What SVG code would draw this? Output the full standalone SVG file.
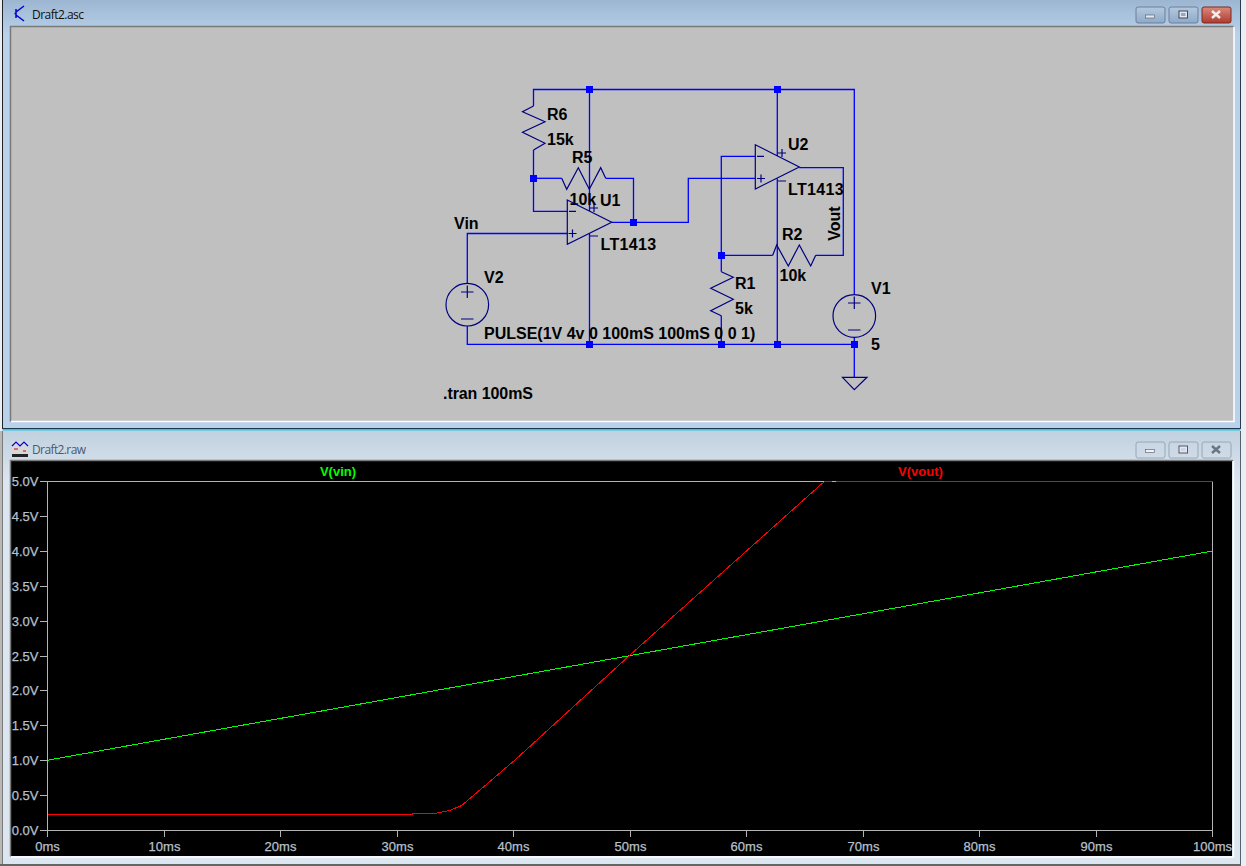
<svg xmlns="http://www.w3.org/2000/svg" width="1246" height="866" viewBox="0 0 1246 866">
<style>
.w{fill:none;stroke:#0000ff;stroke-width:1.3}
.s{fill:none;stroke:#000080;stroke-width:1.2}
.d{fill:#0000ff}
.t{font:bold 16px "Liberation Sans",Arial,sans-serif;fill:#000}
.lt{letter-spacing:.35px}
.ax{font:13px "Liberation Sans",Arial,sans-serif;fill:#b8c0cc;stroke:#b8c0cc;stroke-width:.25}
.tk{fill:none;stroke:#b4b4b4;stroke-width:1;shape-rendering:crispEdges}
.title{font:12px "Open Sans","Liberation Sans",sans-serif}
.leg{font:bold 13px "Liberation Sans",Arial,sans-serif}
.tr{fill:none;stroke-width:1;shape-rendering:crispEdges}
</style>
<defs>
<linearGradient id="g1" x1="0" y1="0" x2="0" y2="1"><stop offset="0" stop-color="#9cb6d2"/><stop offset="0.08" stop-color="#b9d1ea"/><stop offset="1" stop-color="#b9d1ea"/></linearGradient>
<linearGradient id="g2" x1="0" y1="0" x2="0" y2="1"><stop offset="0" stop-color="#c2d1df"/><stop offset="0.12" stop-color="#dbe6f1"/><stop offset="1" stop-color="#dbe6f1"/></linearGradient>
<linearGradient id="bb" x1="0" y1="0" x2="0" y2="1"><stop offset="0" stop-color="#b4c9df"/><stop offset="1" stop-color="#8ea9c8"/></linearGradient>
<linearGradient id="br" x1="0" y1="0" x2="0" y2="1"><stop offset="0" stop-color="#d98a7c"/><stop offset="1" stop-color="#b03a2e"/></linearGradient>
<linearGradient id="bg" x1="0" y1="0" x2="0" y2="1"><stop offset="0" stop-color="#c8d6e3"/><stop offset="1" stop-color="#cfdbe7"/></linearGradient>
</defs>
<rect width="1246" height="866" fill="#e8eef4"/>
<g id="window-schematic">
<rect x="2" y="0" width="1239" height="431" fill="url(#g1)"/>
<rect x="2" y="0" width="1" height="429" fill="#222"/>
<rect x="1240" y="0" width="1" height="429" fill="#2a3a4a"/>
<rect x="3" y="428" width="1237" height="1" fill="#1a3a4a"/>
<rect x="3" y="429" width="1237" height="1.500" fill="#30c8e0"/>
<rect x="10.500" y="26.500" width="1223" height="395" fill="#c0c0c0"/>
<path d="M10.500 421.500V26.500H1233.500" fill="none" stroke="#7a7a7a" stroke-width="1.500"/>
<path d="M11 421.500H1234V27" fill="none" stroke="#ffffff" stroke-width="1.500"/>
<path d="M14.500 13.500H16M16 9V18M16 12L24 6M16 15L24 21" fill="none" stroke="#0000d0" stroke-width="1.500"/>
<text class="title" x="32" y="18.500" fill="#101010" textLength="52">Draft2.asc</text>
<rect x="1136" y="7" width="29" height="16" rx="2" fill="url(#bb)" stroke="#6f7f99"/>
<rect x="1145.500" y="15" width="9" height="3" fill="#e4e8ee" stroke="#556" stroke-width=".6"/>
<rect x="1169" y="7" width="29" height="16" rx="2" fill="url(#bb)" stroke="#6f7f99"/>
<rect x="1179" y="11" width="8.500" height="7" fill="#e4e8ee" stroke="#445" stroke-width="1"/><rect x="1181" y="13" width="4.500" height="3" fill="#8ea9c8"/>
<rect x="1202" y="7" width="29" height="16" rx="2" fill="url(#br)" stroke="#7a2a20"/>
<path d="M1212 11L1220 18M1220 11L1212 18" stroke="#f0f0f0" stroke-width="2.400"/>
</g>
<g id="connectors">
<path class="w" d="M533.500 106V89.500H854.300V294"/>
<path class="w" d="M533.500 150V211.300H567.300"/>
<path class="w" d="M533.500 178.300H561.700"/>
<path class="w" d="M605.700 178.300H633.500V222.300"/>
<path class="w" d="M589.500 89.500V211"/>
<path class="w" d="M589.500 233.500V344.300"/>
<path class="w" d="M567.300 233.500H467.300V283.300"/>
<path class="w" d="M467.300 326V344.300H854.300V377.300"/>
<path class="w" d="M611.700 222.300H688.300V178.300H755.300"/>
<path class="w" d="M755.300 156.300H721.300V271.700"/>
<path class="w" d="M721.300 315.700V344.300"/>
<path class="w" d="M721.300 255.300H772.700"/>
<path class="w" d="M815.700 255.300H843.300V167.700H799.300"/>
<path class="w" d="M777.300 89.500V156"/>
<path class="w" d="M777.300 178.500V344.300"/>
<path class="w" d="M854.300 337.500V344.300"/>
</g>
<g id="junctions">
<rect class="d" x="586" y="86" width="7" height="7"/>
<rect class="d" x="774" y="86" width="7" height="7"/>
<rect class="d" x="530" y="175" width="7" height="7"/>
<rect class="d" x="630" y="219" width="7" height="7"/>
<rect class="d" x="718" y="252" width="7" height="7"/>
<rect class="d" x="586" y="341" width="7" height="7"/>
<rect class="d" x="718" y="341" width="7" height="7"/>
<rect class="d" x="774" y="341" width="7" height="7"/>
<rect class="d" x="851" y="341" width="7" height="7"/>
</g>
<g id="R6">
<path class="s" d="M533.500 106L522.500 111.700L545 121.700L522.500 132.300L545 143.300L533.500 150"/>
<text class="t" x="547" y="119.500">R6</text><text class="t" x="547" y="145">15k</text>
</g>
<g id="R5">
<path class="s" d="M561.700 178.300L566.700 189.300L578.300 167.700L589.300 189.300L600.700 167.700L605.700 178.300"/>
<text class="t" x="572" y="162.500">R5</text><text class="t" x="569.500" y="204.500">10k</text>
</g>
<g id="U1">
<path class="s" d="M567.300 200L611.700 222.300L567.300 244.300Z"/>
<path class="s" d="M569 211.300H576M568.500 233.500H576.500M572.500 229.500V237.500M590 208H598M594 204V212M590 236H598"/>
<text class="t" x="600" y="205.500">U1</text><text class="t lt" x="600.500" y="250">LT1413</text>
</g>
<g id="V2">
<circle class="s" cx="467.300" cy="304.700" r="21.300"/>
<path class="s" d="M461 292H473.500M467.300 285.500V298M461 319H473.500"/>
<text class="t" x="484" y="282.700">V2</text>
<text class="t" x="484" y="338.700">PULSE(1V 4v 0 100mS 100mS 0 0 1)</text>
<text class="t" x="454" y="229">Vin</text>
</g>
<g id="U2">
<path class="s" d="M755.300 144.700L799.300 167L755.300 189Z"/>
<path class="s" d="M757 156.300H764M757 178.500H765M761 174.500V182.500M778 153H786M782 149V157M778 181H786"/>
<text class="t" x="788" y="149.500">U2</text><text class="t lt" x="788" y="195">LT1413</text>
</g>
<g id="R1">
<path class="s" d="M721.300 271.700L733.300 277.300L710.700 288.300L733.300 299.300L710.700 310.700L721.300 315.700"/>
<text class="t" x="735" y="288.700">R1</text><text class="t" x="735" y="314">5k</text>
</g>
<g id="R2">
<path class="s" d="M772.700 255.300L776.700 245L788.300 266L799.300 245L810.700 266L815.700 255.300"/>
<text class="t" x="782" y="240">R2</text><text class="t" x="779.500" y="280.700">10k</text>
</g>
<g id="V1">
<circle class="s" cx="854.300" cy="316" r="21.300"/>
<path class="s" d="M848 303H860.500M854.300 296.500V309M848 330H860.500"/>
<text class="t" x="871" y="294">V1</text><text class="t" x="871" y="350">5</text>
</g>
<g id="GND"><path class="s" d="M842.500 377.300H867L854.300 389.700Z"/></g>
<text class="t" transform="translate(839.800 240.700) rotate(-90)">Vout</text>
<text class="t" x="443" y="399" textLength="90">.tran 100mS</text>

<g id="window-plot">
<rect x="2" y="431" width="1239" height="435" fill="url(#g2)"/>
<rect x="0" y="431" width="2" height="435" fill="#b8b8b8"/>
<rect x="2" y="431" width="1" height="435" fill="#7a7a7a"/>
<rect x="1240" y="431" width="1" height="435" fill="#55606a"/>
<rect x="0" y="864" width="1241" height="2" fill="#666"/>
<rect x="11" y="461" width="1221" height="395" fill="#000"/>
<path d="M10.500 856.500V460.500H1233" fill="none" stroke="#7a7a7a" stroke-width="1.500"/>
<path d="M11 857H1233.500V461" fill="none" stroke="#fff" stroke-width="1.500"/>
<rect x="12" y="441" width="16" height="16" fill="#d8d8d8"/>
<path d="M12 446L16 442L20 446L24 442L28 446" fill="none" stroke="#0000d0" stroke-width="1.200"/>
<path d="M14 449H18M23 451H26" stroke="#e00000" stroke-width="1.200"/>
<rect x="12" y="454" width="16" height="3" fill="#222"/>
<text class="title" x="32" y="454" fill="#4a5a70" textLength="54">Draft2.raw</text>
<rect x="1136" y="442" width="29" height="16" rx="2" fill="url(#bg)" stroke="#98a6b6"/>
<rect x="1145.500" y="449.500" width="9" height="3" fill="#eef1f5" stroke="#556" stroke-width=".6"/>
<rect x="1169" y="442" width="29" height="16" rx="2" fill="url(#bg)" stroke="#98a6b6"/>
<rect x="1179" y="446" width="8.500" height="7" fill="#e4e8ee" stroke="#556" stroke-width="1"/><rect x="1181" y="448" width="4.500" height="3" fill="#c8d6e3"/>
<rect x="1202" y="442" width="29" height="16" rx="2" fill="url(#bg)" stroke="#98a6b6"/>
<path d="M1212 446L1220 453M1220 446L1212 453" stroke="#6a7480" stroke-width="2.400"/>
</g>
<g id="plot">
<path class="tk" d="M47.500 481H1212.500V830H47.500Z"/>
<path class="tk" d="M40 481H47.500M40 516H47.500M40 551H47.500M40 586H47.500M40 621H47.500M40 656H47.500M40 690.500H47.500M40 725.500H47.500M40 760.500H47.500M40 795.500H47.500M40 830H47.500"/>
<path class="tk" d="M47.500 830V837M164.500 830V837M280.500 830V837M397.500 830V837M513.500 830V837M630.500 830V837M746.500 830V837M863.500 830V837M979.500 830V837M1096.500 830V837M1212.500 830V837"/>
<g class="ax" text-anchor="end">
<text x="38.500" y="485.500">5.0V</text><text x="38.500" y="520.500">4.5V</text><text x="38.500" y="555.500">4.0V</text><text x="38.500" y="590.500">3.5V</text><text x="38.500" y="625.500">3.0V</text><text x="38.500" y="660.500">2.5V</text><text x="38.500" y="695">2.0V</text><text x="38.500" y="730">1.5V</text><text x="38.500" y="765">1.0V</text><text x="38.500" y="800">0.5V</text><text x="38.500" y="834.500">0.0V</text>
</g>
<g class="ax" text-anchor="middle">
<text x="47.500" y="851">0ms</text><text x="164.500" y="851">10ms</text><text x="280.500" y="851">20ms</text><text x="397.500" y="851">30ms</text><text x="513.500" y="851">40ms</text><text x="630.500" y="851">50ms</text><text x="746.500" y="851">60ms</text><text x="863.500" y="851">70ms</text><text x="979.500" y="851">80ms</text><text x="1096.500" y="851">90ms</text><text x="1212.500" y="851">100ms</text>
</g>
<text class="leg" x="338" y="476" text-anchor="middle" fill="#00ff00">V(vin)</text>
<text class="leg" x="920.500" y="476" text-anchor="middle" fill="#ff0000">V(vout)</text>
<path class="tr" d="M47.500 760.200L1212.500 551" stroke="#00ff00"/>
<path class="tr" d="M47.500 814.500H412V813.500H434L450 810.500L456.700 807.500L461.700 805.500L515 760L630 655L822 483.500L825 481.500H831.500M835.500 481.500H1212.500" stroke="#ff0000"/>
</g>
</svg>
